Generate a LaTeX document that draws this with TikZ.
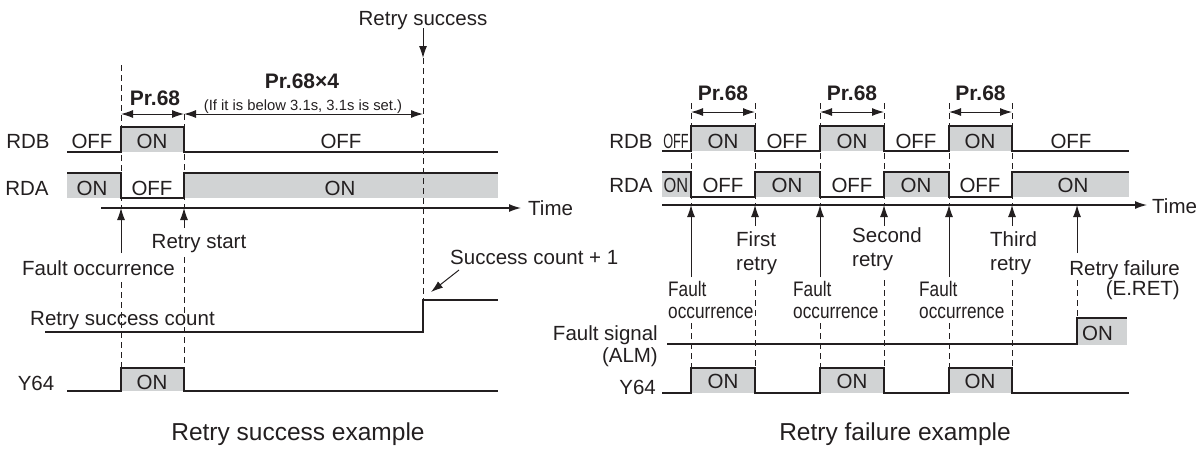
\documentclass[tikz,border=0pt]{standalone}
\usepackage{fontspec}
\setmainfont{Liberation Sans}
\newfontfamily\narrowfont[FakeStretch=0.82]{Liberation Sans}
\usetikzlibrary{arrows.meta}
\definecolor{ink}{HTML}{231F20}
\definecolor{fillg}{HTML}{D1D3D4}
\begin{document}
\begin{tikzpicture}[x=1pt,y=-1pt,
  sig/.style={draw=ink,line width=1.3pt},
  gbox/.style={fill=fillg},
  dsh/.style={draw=ink,line width=0.7pt,dash pattern=on 6pt off 4pt},
  arr/.style={draw=ink,line width=1pt,-{Latex[length=12pt,width=8pt]}},
  dim/.style={draw=ink,line width=1pt,{Latex[length=12pt,width=8pt]}-{Latex[length=12pt,width=8pt]}},
  txt/.style={inner sep=0,font=\fontsize{20.5}{23}\selectfont,text=ink,anchor=base},
  btxt/.style={inner sep=0,font=\fontsize{21}{24}\selectfont\bfseries,text=ink,anchor=base},
  stxt/.style={inner sep=0,font=\fontsize{14.8}{17}\selectfont,text=ink,anchor=base},
  ntxt/.style={inner sep=0,font=\narrowfont\fontsize{21}{24}\selectfont,text=ink,anchor=base west},
  ttl/.style={inner sep=0,font=\fontsize{24.5}{28}\selectfont,text=ink,anchor=base},
]
\useasboundingbox (0,0) rectangle (1198,448);

%% ================= LEFT: Retry success example =================
\fill[gbox] (121,127) rectangle (184,152);
\fill[gbox] (67,173) rectangle (121,198);
\fill[gbox] (184,173) rectangle (498,198);
\fill[gbox] (121,368) rectangle (184,391);
% dashed guides
\draw[dsh] (121,65) -- (121,208);
\draw[dsh] (184,114) -- (184,208);
\draw[dsh] (121,282) -- (121,368);
\draw[dsh] (184,257) -- (184,368);
\draw[dsh] (423,58) -- (423,300);
% signals
\draw[sig] (67,152) -- (121,152) -- (121,127) -- (184,127) -- (184,152) -- (498,152);
\draw[sig] (67,173) -- (121,173) -- (121,198) -- (184,198) -- (184,173) -- (498,173);
\draw[sig] (45,332) -- (423,332) -- (423,300) -- (498,300);
\draw[sig] (67,391) -- (121,391) -- (121,368) -- (184,368) -- (184,391) -- (498,391);
% time axis
\coordinate (tL0) at (101,208);
\coordinate (tL1) at (521,208);
\draw[arr,line width=1.3pt] (tL0) -- (tL1);
\node[txt,anchor=base west] (timeL) at (528,215) {Time};
% pointer arrows
\coordinate (rsTop) at (423,28);
\coordinate (rsBot) at (423,58);
\draw[arr] (rsTop) -- (rsBot);
\coordinate (foL) at (121,253);
\coordinate (foLt) at (121,208);
\draw[arr] (foL) -- (foLt);
\coordinate (rtL) at (184,228);
\coordinate (rtLt) at (184,208);
\draw[arr] (rtL) -- (rtLt);
\coordinate (scA) at (459,270);
\coordinate (scB) at (431,292);
\draw[arr] (scA) -- (scB);
% dimension arrows
\coordinate (d1a) at (121,114);
\coordinate (d1b) at (184,114);
\coordinate (d2b) at (423,114);
\draw[dim] (d1a) -- (d1b);
\draw[dim] (d1b) -- (d2b);
% texts
\node[txt] (rsucc) at (423,25) {Retry success};
\node[btxt] (pr4) at (302,88) {Pr.68×4};
\node[stxt] (note) at (303,110) {(If it is below 3.1s, 3.1s is set.)};
\node[btxt] (prL) at (155,105) {Pr.68};
\node[txt] (rdbL) at (28,148) {RDB};
\node[txt] at (92,148) {OFF};
\node[txt] at (152,148) {ON};
\node[txt] at (341,148) {OFF};
\node[txt] (rdaL) at (27,195) {RDA};
\node[txt] at (92,195) {ON};
\node[txt] at (152,195) {OFF};
\node[txt] at (340,195) {ON};
\node[txt] (rstart) at (199,248) {Retry start};
\node[txt] (fault) at (98.5,275) {Fault occurrence};
\node[txt,anchor=base west] (scp) at (450,264) {Success count + 1};
\node[txt,anchor=base west] (rsc) at (30,325) {Retry success count};
\node[txt] (y64L) at (36,390) {Y64};
\node[txt] at (152,389) {ON};
\node[ttl] (titleL) at (298,440) {Retry success example};

%% ================= RIGHT: Retry failure example =================
\foreach \a/\b in {691/755,820/884,949/1012}{
  \fill[gbox] (\a,126) rectangle (\b,151);
  \fill[gbox] (\a,368) rectangle (\b,393);
}
\foreach \a/\b in {662/691,755/820,884/949,1012/1129}{
  \fill[gbox] (\a,172) rectangle (\b,197);
}
\fill[gbox] (1077,318) rectangle (1127,345);
% dashed guides
\foreach \x in {691,755,820,884,949,1012}{
  \draw[dsh] (\x,103) -- (\x,205);
}
\foreach \x in {691,820,949}{ \draw[dsh] (\x,323) -- (\x,368); }
\foreach \x in {755,884,1012}{ \draw[dsh] (\x,280) -- (\x,368); }
\draw[dsh] (1077,280) -- (1077,318);
% signals
\draw[sig] (662,151) -- (691,151) -- (691,126) -- (755,126) -- (755,151) -- (820,151) -- (820,126) -- (884,126) -- (884,151) -- (949,151) -- (949,126) -- (1012,126) -- (1012,151) -- (1129,151);
\draw[sig] (662,172) -- (691,172) -- (691,197) -- (755,197) -- (755,172) -- (820,172) -- (820,197) -- (884,197) -- (884,172) -- (949,172) -- (949,197) -- (1012,197) -- (1012,172) -- (1129,172);
\draw[sig] (667,344) -- (1077,344) -- (1077,318) -- (1127,318);
\draw[sig] (662,393) -- (691,393) -- (691,368) -- (755,368) -- (755,393) -- (820,393) -- (820,368) -- (884,368) -- (884,393) -- (949,393) -- (949,368) -- (1012,368) -- (1012,393) -- (1129,393);
% time axis
\coordinate (tR0) at (662,205);
\coordinate (tR1) at (1147,205);
\draw[arr,line width=1.3pt] (tR0) -- (tR1);
\node[txt,anchor=base west] (timeR) at (1152,213) {Time};
% pointer arrows
\foreach \x/\n in {691/1,820/2,949/3}{
  \coordinate (fo\n) at (\x,277);
  \coordinate (fot\n) at (\x,205);
  \draw[arr] (fo\n) -- (fot\n);
}
\foreach \x/\n in {755/1,884/2,1012/3}{
  \coordinate (rt\n) at (\x,226);
  \coordinate (rtt\n) at (\x,205);
  \draw[arr] (rt\n) -- (rtt\n);
}
\coordinate (rf) at (1077,253);
\coordinate (rft) at (1077,205);
\draw[arr] (rf) -- (rft);
% dimension arrows
\foreach \a/\b/\n in {691/755/1,820/884/2,949/1012/3}{
  \coordinate (pa\n) at (\a,112);
  \coordinate (pb\n) at (\b,112);
  \draw[dim] (pa\n) -- (pb\n);
  \node[btxt] (pr\n) at ({(\a+\b)/2},100) {Pr.68};
}
% texts
\node[txt] (rdbR) at (631,148) {RDB};
\node[txt] (rdaR) at (631,192) {RDA};
\node[txt] at (676,148) {\scalebox{0.62}[1]{OFF}};
\node[txt] at (676,192) {\scalebox{0.8}[1]{ON}};
\foreach \c/\u/\l in {723/ON/OFF,787/OFF/ON,852/ON/OFF,916/OFF/ON,980/ON/OFF}{
  \node[txt] at (\c,148) {\u};
  \node[txt] at (\c,192) {\l};
}
\node[txt] at (1071,148) {OFF};
\node[txt] at (1073,192) {ON};
\node[txt,anchor=base west] (first) at (736,246) {First};
\node[txt,anchor=base west] (firstb) at (736,270) {retry};
\node[txt,anchor=base west] (second) at (852,242) {Second};
\node[txt,anchor=base west] (secondb) at (852,266) {retry};
\node[txt,anchor=base west] (third) at (990,246) {Third};
\node[txt,anchor=base west] (thirdb) at (990,270) {retry};
\node[txt,anchor=base east] (rfail) at (1180,275) {Retry failure};
\node[txt,anchor=base east] (eret) at (1180,295) {(E.RET)};
\foreach \x/\n in {668/1,793/2,919/3}{
  \node[ntxt] (fa\n) at (\x,296) {Fault};
  \node[ntxt] (fb\n) at (\x,318) {occurrence};
}
\node[txt,anchor=base east] (fsig) at (658,340) {Fault signal};
\node[txt,anchor=base east] (alm) at (658,362) {(ALM)};
\node[txt,anchor=base west] at (1082,340) {ON};
\node[txt,anchor=base east] (y64R) at (656,394) {Y64};
\foreach \c in {723,852,980}{ \node[txt] at (\c,388) {ON}; }
\node[ttl] (titleR) at (895,440) {Retry failure example};
\end{tikzpicture}
\end{document}
